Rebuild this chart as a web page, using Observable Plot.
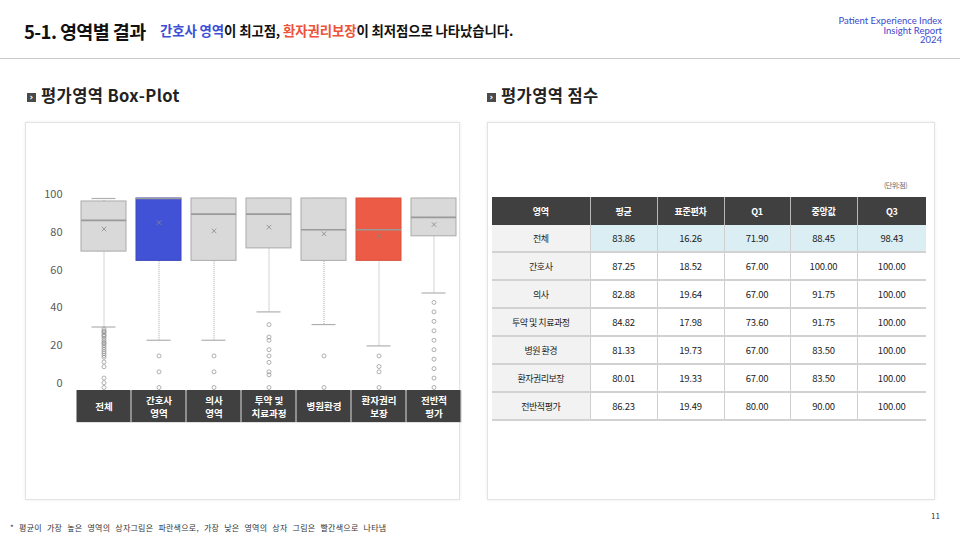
<!DOCTYPE html>
<html><head><meta charset="utf-8">
<script src="https://cdn.jsdelivr.net/npm/d3@7"></script>
<script src="https://cdn.jsdelivr.net/npm/@observablehq/plot@0.6"></script>
<style>
body{margin:0;width:960px;height:540px;position:relative;background:#fff;font-family:"Noto Sans CJK KR","Noto Sans",sans-serif;overflow:hidden;color:#111}
.abs{position:absolute}
.card{position:absolute;border:1px solid #e3e3e3;box-shadow:0 0 3px rgba(0,0,0,0.08);background:#fff;box-sizing:border-box}
.sec{position:absolute;font-weight:bold;font-size:16.5px;line-height:20px;color:#222;letter-spacing:0.4px}
.icon{display:inline-block;width:9px;height:9px;background:#4a4a4a;color:#fff;font-size:9px;line-height:8px;text-align:center;vertical-align:2px;margin-right:5px;font-family:"DejaVu Sans",sans-serif;font-weight:bold}
table{border-collapse:collapse;table-layout:fixed;width:434px}
th{background:#404040;color:#fff;font-weight:bold;font-size:9px;height:28px;padding:0;border-left:1px solid #b8b8b8;letter-spacing:-0.3px}
th:first-child{border-left:none}
td{height:26px;padding:0;font-size:9.5px;text-align:center;color:#222;border-bottom:2px solid #d2d2d2;border-left:1px solid #cfcfcf;letter-spacing:-0.2px}
td:first-child{background:#f2f2f2;border-left:none;font-size:9px;letter-spacing:-0.5px}
tr.hl td:not(:first-child){background:#daeef3}
svg{overflow:visible}
</style></head><body>
<div class="abs" style="left:24px;top:19px;font-size:18.5px;font-weight:bold;letter-spacing:-0.6px;line-height:24px">5-1. 영역별 결과</div>
<div class="abs" style="left:160px;top:21px;font-size:13.4px;font-weight:bold;letter-spacing:-0.1px;line-height:19px"><span style="color:#3c4fd6">간호사 영역</span>이 최고점, <span style="color:#ec5338">환자권리보장</span>이 최저점으로 나타났습니다.</div>
<div class="abs" style="right:18px;top:16px;text-align:right;font-family:Lato,'Open Sans',sans-serif;font-size:9.5px;line-height:9.6px;color:#3848cc">Patient Experience Index<br>Insight Report<br>2024</div>
<div class="abs" style="left:0;top:58px;width:960px;height:1px;background:#c9c9c9"></div>

<div class="sec" style="left:27px;top:85px"><span class="icon">›</span>평가영역 Box-Plot</div>
<div class="sec" style="left:487px;top:85px"><span class="icon">›</span>평가영역 점수</div>

<div class="card" style="left:25px;top:122px;width:435px;height:378px"></div>
<div class="card" style="left:487px;top:122px;width:448px;height:378px"></div>

<div id="chart" class="abs" style="left:25px;top:185px"></div>
<div id="band" class="abs" style="left:25px;top:390px"></div>

<div class="abs" style="left:884px;top:180px;font-size:7px;color:#666;letter-spacing:-0.5px">(단위:점)</div>
<div id="tbl" class="abs" style="left:492px;top:197px"></div>

<div class="abs" style="left:931px;top:510px;font-size:8px;color:#333">11</div>
<div class="abs" style="left:10px;top:522px;font-size:8px;color:#333;word-spacing:3px;letter-spacing:0.25px">* 평균이 가장 높은 영역의 상자그림은 파란색으로, 가장 낮은 영역의 상자 그림은 빨간색으로 나타냄</div>

<script>
// ---- data ----
const categories = ["전체","간호사 영역","의사 영역","투약 및 치료과정","병원환경","환자권리 보장","전반적 평가"];
const axisLabels = ["전체","간호사\n영역","의사\n영역","투약 및\n치료과정","병원환경","환자권리\n보장","전반적\n평가"];
const tableLabels = ["전체","간호사","의사","투약 및 치료과정","병원 환경","환자권리보장","전반적평가"];
const tableHeaders = ["영역","평균","표준편차","Q1","중앙값","Q3"];
const means   = [83.86, 87.25, 82.88, 84.82, 81.33, 80.01, 86.23];
const sds     = [16.26, 18.52, 19.64, 17.98, 19.73, 19.33, 19.49];
const q1s     = [71.90, 67.00, 67.00, 73.60, 67.00, 67.00, 80.00];
const medians = [88.45, 100.00, 91.75, 91.75, 83.50, 83.50, 90.00];
const q3s     = [98.43, 100.00, 100.00, 100.00, 100.00, 100.00, 100.00];
const whiskerLow  = [32, 25, 25, 40, 33.3, 22, 50];
const whiskerHigh = [100, 100, 100, 100, 100, 100, 100];
const outliers = [
  [31, 30, 29.5, 29, 28, 27.5, 27, 26, 25, 24, 23.5, 23, 22, 21, 20, 19, 18, 17, 16, 13.5, 11, 5, 2.5, 0],
  [16.7, 8.3, 0],
  [16.7, 8.3, 0],
  [33.3, 26.7, 25, 20, 16.7, 13.3, 8.3, 6.7, 0],
  [16.7, 0],
  [16.7, 11.1, 8.3, 0],
  [45, 40, 35, 30, 25, 20, 15, 10, 5, 0]
];
const yTicks = [0, 20, 40, 60, 80, 100];

// ---- derived ----
const boxes = categories.map((c, i) => ({cat: c, q1: q1s[i], med: medians[i], q3: q3s[i], lo: whiskerLow[i], hi: whiskerHigh[i], mean: means[i]}));
const maxMean = d3.max(means), minMean = d3.min(means);
const boxFill = d => d.mean === maxMean ? "#4152d6" : d.mean === minMean ? "#eb5b45" : "#d9d9d9";
const boxStroke = d => d.mean === maxMean ? "#3a47b8" : d.mean === minMean ? "#d9523e" : "#a9a9a9";
const outPts = outliers.flatMap((arr, i) => arr.map(v => ({cat: categories[i], v})));

const W = 440;
const xOpts = {type: "band", domain: categories, padding: 0, axis: null};

const chart = Plot.plot({
  width: W, height: 205,
  marginLeft: 51, marginRight: 4, marginTop: 13, marginBottom: 3,
  style: {fontFamily: "'Noto Sans CJK KR', sans-serif", background: "transparent", overflow: "visible"},
  x: xOpts,
  y: {domain: [0, 100], axis: null},
  marks: [
    Plot.axisY({ticks: yTicks, tickSize: 0, tickPadding: 14, fontSize: 11, fill: "#595959", label: null, dy: -4}),
    Plot.ruleX(boxes, {x: "cat", y1: "lo", y2: "q1", stroke: "#a8a8a8", strokeWidth: 1, strokeDasharray: "1,1"}),
    Plot.ruleX(boxes, {x: "cat", y1: "q3", y2: "hi", stroke: "#a8a8a8", strokeWidth: 1, strokeDasharray: "1,1"}),
    Plot.tickY(boxes, {x: "cat", y: "lo", stroke: "#b0b0b0", strokeWidth: 1.2, inset: 15.5}),
    Plot.tickY(boxes, {x: "cat", y: "hi", stroke: "#b0b0b0", strokeWidth: 1.2, inset: 15.5}),
    Plot.barY(boxes, {x: "cat", y1: "q1", y2: "q3", fill: boxFill, stroke: boxStroke, strokeWidth: 1, insetLeft: 5, insetRight: 5}),
    Plot.tickY(boxes, {x: "cat", y: "med", stroke: "#9a9a9a", strokeWidth: 1.6, inset: 5}),
    Plot.dot(boxes, {x: "cat", y: "mean", symbol: "times", r: 2.2, stroke: "#888", strokeWidth: 0.8}),
    Plot.dot(outPts, {x: "cat", y: "v", r: 2, stroke: "#9c9c9c", strokeWidth: 0.8, fill: "none"})
  ]
});
document.getElementById("chart").append(chart);

const band = Plot.plot({
  width: W, height: 32,
  marginLeft: 51, marginRight: 4, marginTop: 0, marginBottom: 0,
  style: {fontFamily: "'Noto Sans CJK KR', sans-serif", background: "transparent"},
  x: xOpts,
  marks: [
    Plot.frame({fill: "#c4c4c4", stroke: null}),
    Plot.cell(categories, {x: d => d, fill: "#404040", insetLeft: 0.6, insetRight: 0.6}),
    Plot.text(categories, {x: d => d, text: (d, i) => axisLabels[i], fill: "white", fontSize: 9.5, fontWeight: "bold", lineHeight: 1.3})
  ]
});
document.getElementById("band").append(band);

// ---- table ----
const fmt = v => v.toFixed(2);
const tbl = d3.select("#tbl").append("table");
const colW = [98, 67, 67, 66, 67, 69];
tbl.append("colgroup").selectAll("col").data(colW).join("col").style("width", d => d + "px");
tbl.append("tr").selectAll("th").data(tableHeaders).join("th").text(d => d);
tableLabels.forEach((lab, i) => {
  const tr = tbl.append("tr").attr("class", i === 0 ? "hl" : null);
  [lab, fmt(means[i]), fmt(sds[i]), fmt(q1s[i]), fmt(medians[i]), fmt(q3s[i])].forEach(v => tr.append("td").text(v));
});
</script>
</body></html>
